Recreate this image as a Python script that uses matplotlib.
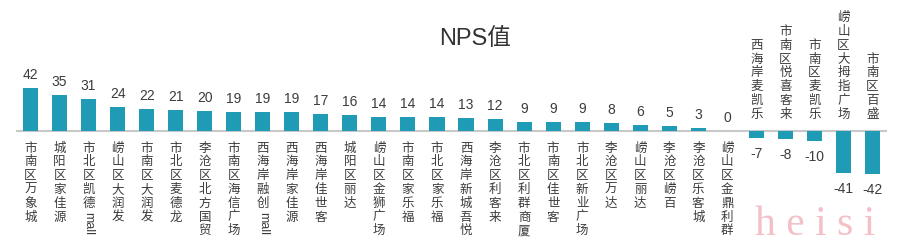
import matplotlib.pyplot as plt
import numpy as np

plt.rcParams['font.family'] = ['Noto Sans CJK SC', 'DejaVu Sans']

# data
stores = ['市南区万象城', '城阳区家佳源', '市北区凯德mall', '崂山区大润发', '市南区大润发',
          '市北区麦德龙', '李沧区北方国贸', '市南区海信广场', '西海岸融创mall', '西海岸家佳源',
          '西海岸佳世客', '城阳区丽达', '崂山区金狮广场', '市南区家乐福', '市北区家乐福',
          '西海岸新城吾悦', '李沧区利客来', '市北区利群商厦', '市南区佳世客', '市北区新业广场',
          '李沧区万达', '崂山区丽达', '李沧区崂百', '李沧区乐客城', '崂山区金鼎利群',
          '西海岸麦凯乐', '市南区悦喜客来', '市南区麦凯乐', '崂山区大拇指广场', '市南区百盛']
nps = [42, 35, 31, 24, 22, 21, 20, 19, 19, 19, 17, 16, 14, 14, 14, 13, 12, 9, 9, 9,
       8, 6, 5, 3, 0, -7, -8, -10, -41, -42]
title = 'NPS值'

bar_color = '#1f9bb6'
text_color = '#3c3c3c'
PX = 0.72  # points per pixel at dpi 100
step = 13.8  # px between stacked characters
latin = ['Liberation Sans', 'Noto Sans CJK SC']

fig = plt.figure(figsize=(9, 2.52), dpi=100)
ax = fig.add_axes([16 / 900, 0, 871 / 900, 1])
x = np.arange(len(stores))
ax.bar(x, nps, width=0.52, color=bar_color, zorder=2)
ax.axhline(0, color='#c8c8c8', lw=1.5, zorder=1)
ax.set_xlim(-0.5, len(stores) - 0.5)
ax.set_ylim(-118, 128)
ax.axis('off')

for i, (name, v) in enumerate(zip(stores, nps)):
    # value label
    if v >= 0:
        ax.annotate(str(v), (i, v), xytext=(0, 6 * PX), textcoords='offset points',
                    ha='center', va='bottom', fontsize=10, color=text_color, family=latin)
    else:
        ax.annotate(str(v), (i, v), xytext=(0, -9 * PX), textcoords='offset points',
                    ha='center', va='top', fontsize=10, color=text_color, family=latin)

    # vertical category label, one char per row, latin tail rotated
    cjk = name.rstrip('abcdefghijklmnopqrstuvwxyz')
    tail = name[len(cjk):]
    n = len(cjk)
    for k, ch in enumerate(cjk):
        if v >= 0:
            dy = -(10 + step / 2 + k * step)
        else:
            dy = 10 + step / 2 + (n - 1 - k) * step
        ax.annotate(ch, (i, 0), xytext=(0, dy * PX), textcoords='offset points',
                    ha='center', va='center', fontsize=9, color=text_color)
    if tail:
        dy = -(10 + n * step + 13)
        ax.annotate(tail, (i, 0), xytext=(0, dy * PX), textcoords='offset points',
                    ha='center', va='center', fontsize=9, color=text_color, rotation=270,
                    family=latin)

fig.text(0.528, 0.845, title, ha='center', va='center', fontsize=17, color='#333333',
         family=latin)

# watermark
fig.text(755 / 900, 17 / 252, 'h e i s i', ha='left', va='baseline', fontsize=30,
         family='Liberation Serif', color='#f3c0c8')

fig.savefig('out.png', dpi=100)
